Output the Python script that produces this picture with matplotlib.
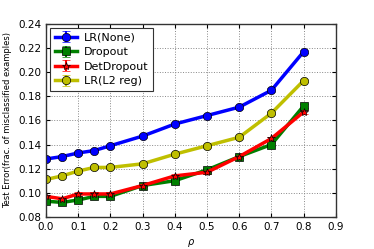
import numpy as np
import matplotlib
matplotlib.use('Agg')
import matplotlib.pyplot as plt

rho = [0.0, 0.05, 0.1, 0.15, 0.2, 0.3, 0.4, 0.5, 0.6, 0.7, 0.8]
lr_none = [0.128, 0.130, 0.133, 0.135, 0.139, 0.147, 0.157, 0.164, 0.171, 0.185, 0.217]
dropout = [0.093, 0.092, 0.094, 0.097, 0.097, 0.106, 0.110, 0.119, 0.130, 0.140, 0.172]
det_dropout = [0.097, 0.095, 0.099, 0.099, 0.099, 0.106, 0.114, 0.117, 0.130, 0.145, 0.167]
lr_l2 = [0.111, 0.114, 0.118, 0.121, 0.121, 0.124, 0.132, 0.139, 0.146, 0.166, 0.193]
err = [0.0015] * len(rho)

f = plt.figure(figsize=(3.74, 2.49), dpi=100)
ax = f.add_axes([0.123, 0.129, 0.775, 0.775])

series = [
    (lr_none, 'b', 'o', 'LR(None)'),
    (dropout, 'g', 's', 'Dropout'),
    (det_dropout, 'r', '*', 'DetDropout'),
    (lr_l2, 'y', 'o', 'LR(L2 reg)'),
]
for vals, c, m, lab in series:
    ax.errorbar(rho, vals, yerr=err, color=c, marker=m, markersize=6,
                linewidth=2.5, capsize=3, capthick=1.5, elinewidth=1.5,
                markeredgecolor='k', markeredgewidth=0.5, label=lab)

ax.set_xlim(0, 0.9)
ax.set_ylim(0.08, 0.24)
ax.set_xticks(np.arange(0, 0.91, 0.1))
ax.set_yticks(np.arange(0.08, 0.241, 0.02))
ax.tick_params(labelsize=7.5, direction='in', length=3, top=True, right=True)
ax.grid(True, linestyle=':', color='#888888', linewidth=0.7)
for s in ax.spines.values():
    s.set_linewidth(1.0)
    s.set_color('#333333')
ax.set_xlabel(r'$\rho$', fontsize=7)
ax.set_ylabel('Test Error(frac. of misclassified examples)', fontsize=6)
leg = ax.legend(loc='upper left', fontsize=8, fancybox=False, framealpha=1,
                edgecolor='#333333', handlelength=2.0, borderaxespad=0.4,
                labelspacing=0.4, handletextpad=0.6)
leg.get_frame().set_linewidth(0.8)

f.savefig('out.png', dpi=100)
